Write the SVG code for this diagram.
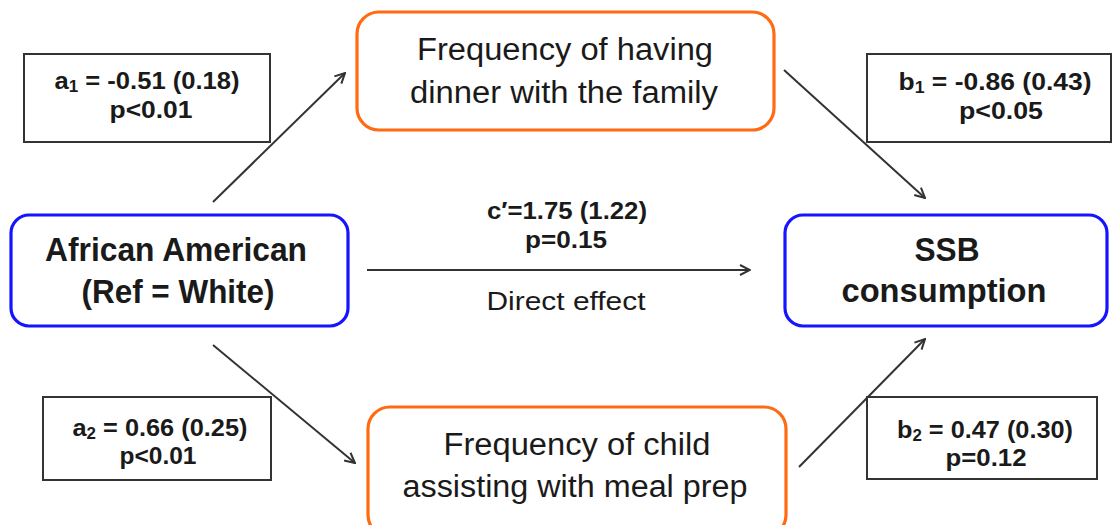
<svg xmlns="http://www.w3.org/2000/svg" width="1113" height="525" viewBox="0 0 1113 525">
<defs>
<style>
.blue{fill:#fff;stroke:#1414ff;stroke-width:3.2}
.orange{fill:#fff;stroke:#ff6a13;stroke-width:3.2}
.lbl{fill:#fff;stroke:#333;stroke-width:2}
.t{font-family:"Liberation Sans",Arial,sans-serif;fill:#1a1a1a;text-anchor:middle}
.b{font-weight:bold}
.med{font-size:31px}
.big{font-size:33px}
.sm{font-size:24px}
.edge{stroke:#333;stroke-width:2;fill:none}
</style>
<marker id="arr" viewBox="0 0 12 12" refX="11" refY="6" markerWidth="12" markerHeight="12" markerUnits="userSpaceOnUse" orient="auto">
<path d="M1,1 L11,6 L1,11" fill="none" stroke="#333" stroke-width="2"/>
</marker>
</defs>
<rect width="1113" height="525" fill="#fff"/>
<g id="connectors">
<line class="edge" x1="213" y1="202" x2="345" y2="73" marker-end="url(#arr)"/>
<line class="edge" x1="784" y1="70" x2="925" y2="198" marker-end="url(#arr)"/>
<line class="edge" x1="213" y1="345" x2="355" y2="463" marker-end="url(#arr)"/>
<line class="edge" x1="799" y1="467" x2="925" y2="339" marker-end="url(#arr)"/>
<line class="edge" x1="367" y1="270" x2="750" y2="270" marker-end="url(#arr)"/>
</g>
<g id="label-a1">
<rect class="lbl" x="24" y="54" width="246" height="88"/>
<text class="t b sm" x="147" y="89" textLength="185" lengthAdjust="spacingAndGlyphs">a<tspan font-size="16" dy="3">1</tspan><tspan dy="-3"> = -0.51 (0.18)</tspan></text>
<text class="t b sm" x="151" y="118" textLength="83" lengthAdjust="spacingAndGlyphs">p&lt;0.01</text>
</g>
<g id="label-b1">
<rect class="lbl" x="867" y="54" width="244" height="88"/>
<text class="t b sm" x="995" y="90" textLength="193" lengthAdjust="spacingAndGlyphs">b<tspan font-size="16" dy="3">1</tspan><tspan dy="-3">  = -0.86 (0.43)</tspan></text>
<text class="t b sm" x="1001" y="119" textLength="84" lengthAdjust="spacingAndGlyphs">p&lt;0.05</text>
</g>
<g id="label-a2">
<rect class="lbl" x="43" y="397" width="228" height="83"/>
<text class="t b sm" x="160" y="436" textLength="175" lengthAdjust="spacingAndGlyphs">a<tspan font-size="16" dy="3">2</tspan><tspan dy="-3"> = 0.66 (0.25)</tspan></text>
<text class="t b sm" x="158" y="464" textLength="77" lengthAdjust="spacingAndGlyphs">p&lt;0.01</text>
</g>
<g id="label-b2">
<rect class="lbl" x="867" y="397" width="230" height="82"/>
<text class="t b sm" x="985" y="438" textLength="176" lengthAdjust="spacingAndGlyphs">b<tspan font-size="16" dy="3">2</tspan><tspan dy="-3"> = 0.47 (0.30)</tspan></text>
<text class="t b sm" x="986" y="466" textLength="81" lengthAdjust="spacingAndGlyphs">p=0.12</text>
</g>
<g id="label-direct">
<text class="t b sm" x="567" y="219" textLength="160" lengthAdjust="spacingAndGlyphs">c′=1.75 (1.22)</text>
<text class="t b sm" x="566" y="248" textLength="82" lengthAdjust="spacingAndGlyphs">p=0.15</text>
<text class="t" x="566" y="310" textLength="159" lengthAdjust="spacingAndGlyphs" style="font-size:26px">Direct effect</text>
</g>
<g id="node-dinner">
<rect class="orange" x="357" y="12" width="417" height="118" rx="22"/>
<text class="t med" x="565" y="60" textLength="296" lengthAdjust="spacingAndGlyphs">Frequency of having</text>
<text class="t med" x="564" y="103" textLength="308" lengthAdjust="spacingAndGlyphs">dinner with the family</text>
</g>
<g id="node-mealprep">
<rect class="orange" x="368" y="407" width="418" height="130" rx="22"/>
<text class="t med" x="577" y="455" textLength="267" lengthAdjust="spacingAndGlyphs">Frequency of child</text>
<text class="t med" x="575" y="497" textLength="345" lengthAdjust="spacingAndGlyphs">assisting with meal prep</text>
</g>
<g id="node-african">
<rect class="blue" x="11" y="215" width="337" height="111" rx="18"/>
<text class="t b big" x="176" y="261" textLength="262" lengthAdjust="spacingAndGlyphs">African American</text>
<text class="t b big" x="178" y="303" textLength="193" lengthAdjust="spacingAndGlyphs">(Ref = White)</text>
</g>
<g id="node-ssb">
<rect class="blue" x="785" y="215" width="322" height="111" rx="18"/>
<text class="t b big" x="947" y="261" textLength="65" lengthAdjust="spacingAndGlyphs">SSB</text>
<text class="t b big" x="944" y="302" textLength="205" lengthAdjust="spacingAndGlyphs">consumption</text>
</g>
</svg>
